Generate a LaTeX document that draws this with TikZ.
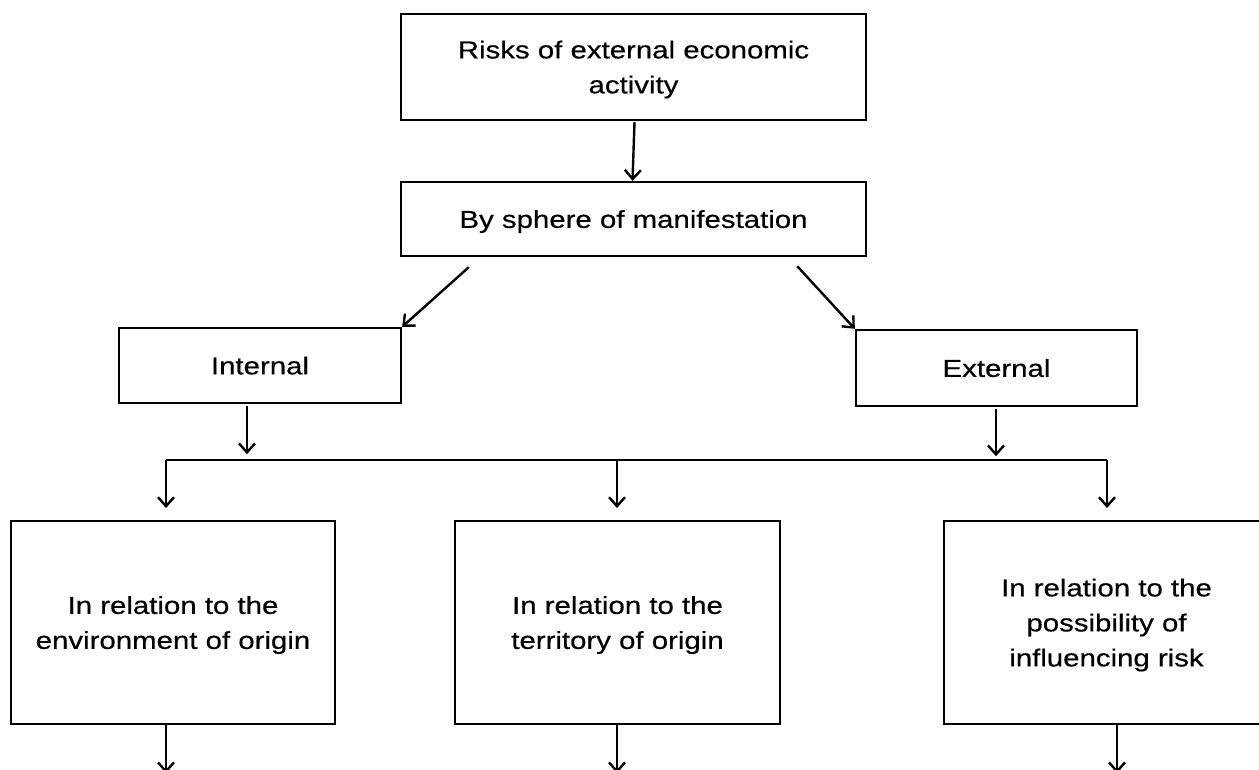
\documentclass[tikz,border=0pt]{standalone}
\usepackage{fontspec}
\setmainfont{Liberation Sans}[FakeStretch=1.2,FakeBold=0.4]
\usetikzlibrary{arrows.meta,calc}
\begin{document}
\begin{tikzpicture}[x=1pt,y=-1pt,
  box/.style={draw, line width=2.4pt, inner sep=0pt, align=center, text depth=0pt,
    font=\fontsize{24.5}{35}\selectfont},
  arr/.style={line width=2.4pt, -{Straight Barb[length=9pt,width=16pt,line width=2.4pt]}},
  wire/.style={line width=2.4pt}]
\useasboundingbox (0,0) rectangle (1259,769);
\clip (0,0) rectangle (1259,769);
\fill[white] (0,0) rectangle (1259,769);

% top levels
\node[box, minimum width=465pt, minimum height=106pt] (risk) at (633.5,67)
  {Risks of external economic\\activity};
\node[box, minimum width=465pt, minimum height=74pt] (sphere) at (633.5,219)
  {By sphere of manifestation};
\node[box, minimum width=282pt, minimum height=75pt] (int) at (260,365.5) {Internal};
\node[box, minimum width=281pt, minimum height=76pt] (ext) at (996.5,368) {External};

% classification boxes
\node[box, minimum width=324pt, minimum height=203pt] (env) at (173,622.5)
  {In relation to the\\environment of origin};
\node[box, minimum width=325pt, minimum height=203pt] (terr) at (617.5,622.5)
  {In relation to the\\territory of origin};
\node[box, minimum width=325pt, minimum height=203pt] (poss) at (1106.5,622.5)
  {In relation to the\\possibility of\\influencing risk};

% connectors between the upper levels
\draw[arr] ([xshift=1pt,yshift=-1pt]risk.south) -- ([xshift=-1pt]sphere.north);
\draw[arr] ($(sphere.south west)+(69,10)$) -- (int.north east);
\draw[arr] ($(sphere.south east)+(-70,9)$) -- (ext.north west);

% common bus
\coordinate (busL) at (166,460);
\coordinate (busM) at (617,460);
\coordinate (busR) at (1107,460);
\draw[arr] ($(int.south)+(-13,2)$) -- ($(int.south)+(-13,50)$);
\draw[arr] ($(ext.south)+(-0.5,2)$) -- ($(ext.south)+(-0.5,49)$);
\draw[wire] (busL) -- (busR);
\draw[arr] (busL) -- ($(busL)+(0,48)$);
\draw[arr] (busM) -- ($(busM)+(0,48)$);
\draw[arr] (busR) -- ($(busR)+(0,48)$);

% outgoing arrows below the classification boxes
\coordinate (outL) at ($(env.south)+(-7,48)$);
\coordinate (outM) at ($(terr.south)+(-0.5,48)$);
\coordinate (outR) at ($(poss.south)+(10.5,48)$);
\draw[arr] (env.south -| outL) -- (outL);
\draw[arr] (terr.south -| outM) -- (outM);
\draw[arr] (poss.south -| outR) -- (outR);
\end{tikzpicture}
\end{document}
